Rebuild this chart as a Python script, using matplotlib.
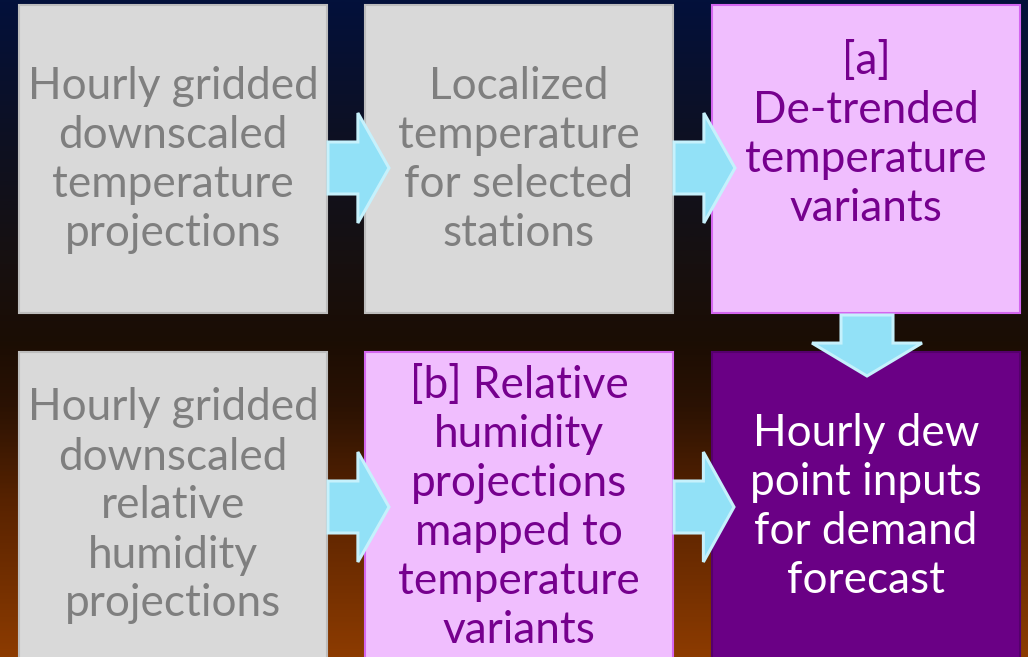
import numpy as np
import matplotlib.pyplot as plt
from matplotlib.colors import LinearSegmentedColormap
from matplotlib.patches import Rectangle, Polygon

# Box texts, row by row (left to right)
texts = [
    ["Hourly gridded", "downscaled", "temperature", "projections"],
    ["Localized", "temperature", "for selected", "stations"],
    ["[a]", "De-trended", "temperature", "variants"],
    ["Hourly gridded", "downscaled", "relative", "humidity", "projections"],
    ["[b] Relative", "humidity", "projections", "mapped to", "temperature", "variants"],
    ["Hourly dew", "point inputs", "for demand", "forecast"],
]
styles = ["gray", "gray", "pink", "gray", "pink", "dark"]
text_center = [160, 160, 135, 506, 508, 507]

fills = {"gray": "#D9D9D9", "pink": "#F0BEFE", "dark": "#6A0085"}
edges = {"gray": "#BDBDBD", "pink": "#D466F0", "dark": "#55006C"}
tcols = {"gray": "#7F7F7F", "pink": "#76008E", "dark": "#FFFFFF"}

W, H = 1028, 657
box_x = [19, 365, 712]
box_y = [5, 352]
box_w, box_h = 308, 308
line_gap = 49

plt.rcParams['font.family'] = ['Lato', 'DejaVu Sans']

fig = plt.figure(figsize=(W / 100, H / 100), dpi=100)
ax = fig.add_axes([0, 0, 1, 1])
ax.set_xlim(0, W)
ax.set_ylim(H, 0)
ax.axis("off")

# background gradient
bg = LinearSegmentedColormap.from_list("bg", [
    (0.0, "#03113B"), (0.22, "#0E1021"), (0.40, "#171010"),
    (0.52, "#1B0D04"), (0.62, "#2B1203"), (0.77, "#592300"), (1.0, "#8C3B00")])
grad = np.linspace(0, 1, 400).reshape(-1, 1)
ax.imshow(grad, cmap=bg, aspect="auto", extent=[0, W, H, 0], zorder=0)

for i, lines in enumerate(texts):
    r, c = divmod(i, 3)
    s = styles[i]
    ax.add_patch(Rectangle((box_x[c], box_y[r]), box_w, box_h, facecolor=fills[s],
                           edgecolor=edges[s], lw=1.5, zorder=1))
    cx = box_x[c] + box_w / 2
    n = len(lines)
    for k, ln in enumerate(lines):
        y = text_center[i] + (k - (n - 1) / 2) * line_gap
        ax.text(cx, y, ln, ha="center", va="center", color=tcols[s],
                fontsize=31.8, zorder=3)


def right_arrow(x0, x1, yc):
    hx = x0 + 0.49 * (x1 - x0)
    pts = [(x0, yc - 26), (hx, yc - 26), (hx, yc - 55), (x1, yc),
           (hx, yc + 55), (hx, yc + 26), (x0, yc + 26)]
    ax.add_patch(Polygon(pts, closed=True, facecolor="#92E1F7",
                         edgecolor="#C6F1FC", lw=2.2, zorder=4))


def down_arrow(xc, y0, y1):
    hy = y0 + 0.46 * (y1 - y0)
    pts = [(xc - 26, y0), (xc + 26, y0), (xc + 26, hy), (xc + 55, hy),
           (xc, y1), (xc - 55, hy), (xc - 26, hy)]
    ax.add_patch(Polygon(pts, closed=True, facecolor="#92E1F7",
                         edgecolor="#C6F1FC", lw=2.2, zorder=4))


right_arrow(328, 389, 168)
right_arrow(674, 735, 168)
right_arrow(328, 389, 507)
right_arrow(674, 734, 507)
down_arrow(867, 315, 376)

fig.savefig("out.png", dpi=100)
